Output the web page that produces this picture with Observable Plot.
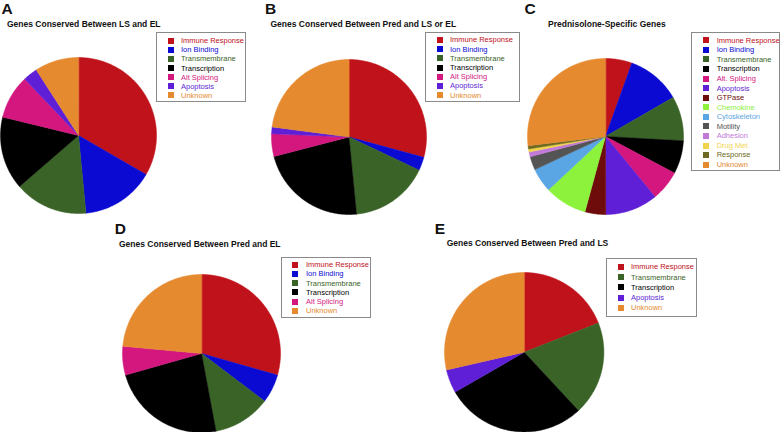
<!DOCTYPE html>
<html>
<head>
<meta charset="utf-8">
<script src="https://cdn.jsdelivr.net/npm/d3@7"></script>
<script src="https://cdn.jsdelivr.net/npm/@observablehq/plot@0.6"></script>
<style>
  html, body { margin: 0; padding: 0; background: #fff; }
  #root { position: relative; width: 781px; height: 432px; overflow: hidden; font-family: "Liberation Sans", Arial, sans-serif; }
  .abs { position: absolute; white-space: nowrap; line-height: 1; }
  .letter { font-weight: bold; font-size: 15.5px; color: #111; }
  .title { font-weight: bold; font-size: 8.5px; color: #111; }
  .legend { position: absolute; border: 1px solid #8a8a8a; background: #fff; box-sizing: border-box; }
  .sw { position: absolute; width: 6px; height: 6px; }
  .lt { position: absolute; font-size: 7.5px; line-height: 1; white-space: nowrap; }
</style>
</head>
<body>
<div id="root"></div>
<script>
// ---- data ----
const catsA = ["Immune Response", "Ion Binding", "Transmembrane", "Transcription", "Alt Splicing", "Apoptosis", "Unknown"];
const valsA = [11, 5, 5, 5, 3, 1, 3];

const catsB = ["Immune Response", "Ion Binding", "Transmembrane", "Transcription", "Alt Splicing", "Apoptosis", "Unknown"];
const valsB = [29.2, 2.8, 16.4, 22.5, 4.7, 1.4, 22.9];

const catsC = ["Immune Response", "Ion Binding", "Transmembrane", "Transcription", "Alt. Splicing", "Apoptosis", "GTPase", "Chemokine", "Cytoskeleton", "Motility", "Adhesion", "Drug Met.", "Response", "Unknown"];
const valsC = [5.5, 11.2, 9.2, 6.9, 6.3, 10.9, 4.3, 8.8, 5.0, 2.8, 1.0, 0.6, 0.7, 26.9];

const catsD = ["Immune Response", "Ion Binding", "Transmembrane", "Transcription", "Alt Splicing", "Unknown"];
const valsD = [5, 1, 2, 4, 1, 4];

const catsE = ["Immune Response", "Transmembrane", "Transcription", "Apoptosis", "Unknown"];
const valsE = [4, 4, 6, 1, 6];

const panelLetters = ["A", "B", "C", "D", "E"];
const panelTitles = [
  "Genes Conserved Between LS and EL",
  "Genes Conserved Between Pred and LS or EL",
  "Prednisolone-Specific Genes",
  "Genes Conserved Between Pred and EL",
  "Genes Conserved Between Pred and LS"
];

const paletteNames = ["Immune Response", "Ion Binding", "Transmembrane", "Transcription", "Alt Splicing", "Alt. Splicing", "Apoptosis", "GTPase", "Chemokine", "Cytoskeleton", "Motility", "Adhesion", "Drug Met.", "Response", "Unknown"];
const paletteColors = ["#c0121a", "#0a0ad2", "#3a6427", "#000000", "#d3177f", "#d3177f", "#5e1fd6", "#6e0b0b", "#8cf23c", "#5aa5e3", "#545454", "#c27ad8", "#f0d44c", "#6e6a22", "#e68a30"];
const palette = Object.fromEntries(paletteNames.map((n, i) => [n, paletteColors[i]]));

// ---- layout ----
const layout = [
  { cats: catsA, vals: valsA, letter: [1.5, 14], title: [7, 26.7], pie: [78.3, 135.3, 78], legend: { left: 156, top: 32, w: 90, h: 70, sx: 10.7, tx: 24, r0: 8, step: 9.05 } },
  { cats: catsB, vals: valsB, letter: [265, 14], title: [270.5, 26.7], pie: [348.2, 136, 77.5], legend: { left: 425, top: 32, w: 95, h: 70, sx: 10.7, tx: 24, r0: 7, step: 9.2 } },
  { cats: catsC, vals: valsC, letter: [524.5, 14], title: [548, 26.7], pie: [605.3, 136, 78], legend: { left: 691, top: 32, w: 89, h: 139, sx: 10.7, tx: 24.7, r0: 7.3, step: 9.57 } },
  { cats: catsD, vals: valsD, letter: [114.8, 234], title: [119, 246.7], pie: [201, 353, 79], legend: { left: 281, top: 257, w: 90, h: 61, sx: 10, tx: 24, r0: 7, step: 9.14 } },
  { cats: catsE, vals: valsE, letter: [434.8, 234], title: [446.7, 246.2], pie: [524, 352, 79.7], legend: { left: 606, top: 258, w: 91, h: 59, sx: 10.7, tx: 24, r0: 8, step: 10.2 } }
];

const root = document.getElementById("root");

function addText(cls, txt, x, baseline, fs) {
  const d = document.createElement("div");
  d.className = "abs " + cls;
  d.textContent = txt;
  d.style.left = x + "px";
  d.style.top = (baseline - 0.8465 * fs) + "px";
  root.appendChild(d);
}

function pie(cats, vals, r) {
  const total = d3.sum(vals);
  const rows = [];
  let acc = 0;
  cats.forEach((c, i) => {
    const a0 = acc / total * 2 * Math.PI;
    acc += vals[i];
    const a1 = acc / total * 2 * Math.PI;
    const n = Math.max(2, Math.ceil((a1 - a0) / (Math.PI / 180)));
    rows.push({ key: c, x: 0, y: 0 });
    for (let k = 0; k <= n; k++) {
      const a = a0 + (a1 - a0) * k / n;
      rows.push({ key: c, x: Math.sin(a), y: Math.cos(a) });
    }
  });
  return Plot.plot({
    width: 2 * r, height: 2 * r, margin: 0,
    style: { background: "transparent", overflow: "visible" },
    x: { domain: [-1, 1], axis: null },
    y: { domain: [-1, 1], axis: null },
    color: { type: "ordinal", domain: cats, range: cats.map(c => palette[c]) },
    marks: [
      Plot.line(rows, { x: "x", y: "y", z: "key", fill: "key", stroke: "key", strokeWidth: 0.5, curve: "linear-closed" })
    ]
  });
}

layout.forEach((p, i) => {
  addText("letter", panelLetters[i], p.letter[0], p.letter[1], 15.5);
  addText("title", panelTitles[i], p.title[0], p.title[1], 8.5);

  const [cx, cy, r] = p.pie;
  const holder = document.createElement("div");
  holder.style.position = "absolute";
  holder.style.left = (cx - r) + "px";
  holder.style.top = (cy - r) + "px";
  holder.style.width = (2 * r) + "px";
  holder.style.height = (2 * r) + "px";
  const svg = pie(p.cats, p.vals, r);
  svg.style.maxWidth = "none";
  svg.style.display = "block";
  holder.appendChild(svg);
  root.appendChild(holder);

  const L = p.legend;
  const box = document.createElement("div");
  box.className = "legend";
  box.style.left = L.left + "px";
  box.style.top = L.top + "px";
  box.style.width = L.w + "px";
  box.style.height = L.h + "px";
  p.cats.forEach((c, j) => {
    const yc = L.r0 + L.step * j;
    const sw = document.createElement("div");
    sw.className = "sw";
    sw.style.left = L.sx + "px";
    sw.style.top = (yc - 3) + "px";
    sw.style.background = palette[c];
    box.appendChild(sw);
    const t = document.createElement("div");
    t.className = "lt";
    t.textContent = c;
    t.style.left = L.tx + "px";
    t.style.top = (yc + 2.7 - 0.8465 * 7.5) + "px";
    t.style.color = palette[c];
    box.appendChild(t);
  });
  root.appendChild(box);
});
</script>
</body>
</html>
